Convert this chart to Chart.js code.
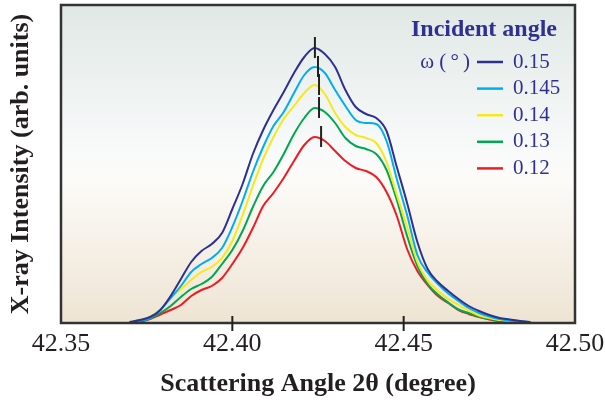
<!DOCTYPE html>
<html>
<head>
<meta charset="utf-8">
<script src="https://cdn.jsdelivr.net/npm/chart.js@4.4.1/dist/chart.umd.min.js"></script>
<style>
  html, body { margin: 0; padding: 0; background: #fff; }
  #wrap { width: 605px; height: 400px; }
</style>
</head>
<body>
<div id="wrap"><canvas id="xrd" width="605" height="400"></canvas></div>
<script>
// scattering angle 2theta (degree), shared by every curve
const angles = [
  42.370, 42.373, 42.376, 42.379, 42.382, 42.385, 42.388, 42.391, 42.394, 42.397,
  42.400, 42.403, 42.406, 42.409, 42.412, 42.415, 42.418, 42.421, 42.424, 42.427,
  42.430, 42.433, 42.436, 42.439, 42.442, 42.445, 42.448, 42.451, 42.454, 42.457,
  42.460, 42.463, 42.466, 42.469, 42.472, 42.475, 42.478, 42.481, 42.484, 42.487
];

// intensity (arb. units) for each incident angle
const omega015 = [
  1, 3, 6, 13, 27, 44, 61, 72, 79, 90,
  114, 139, 169, 193, 213, 231, 250, 266, 275, 269,
  256, 233, 216, 209, 205, 192, 156, 120, 81, 54,
  41, 32, 24, 17, 12, 8, 5, 3.5, 2, 1
];
const omega0145 = [
  0.5, 2.5, 5, 13, 25, 37, 51, 59, 65, 75,
  96, 122, 151, 176, 197, 211, 230, 248, 256, 250,
  233, 217, 203, 200, 199, 182, 144, 108, 68, 50.5,
  39, 29.5, 22, 15, 10, 6.5, 4, 2.5, 1.5, 1
];
const omega014 = [
  0.5, 3, 6, 14, 25, 34, 43, 51, 56, 65,
  82, 108, 137, 164, 186, 204, 217, 230, 238, 229,
  210, 196, 188, 185, 180, 161, 128, 96, 61, 42.5,
  32, 24, 18, 12.5, 7.5, 5, 3, 2, 1, 0.5
];
const omega013 = [
  0, 2, 4.5, 10, 17, 26, 34, 39, 46, 59,
  73, 92, 116, 137, 151, 169, 189, 205, 215, 211,
  200, 185, 177, 174, 169, 153, 123, 87, 57, 39,
  28.5, 20.5, 13.5, 10, 6.5, 4, 2, 1.5, 1, 0
];
const omega012 = [
  0, 1, 4, 8.5, 13, 18, 27, 33, 37, 45,
  59, 75, 95, 117, 130, 145, 162, 178, 186, 182,
  172, 162, 155, 152, 146, 131, 107, 74, 52, 38,
  27, 20, 13, 9, 6, 3.5, 2, 1.5, 1, 0
];

const omegaLabels = ['0.15', '0.145', '0.14', '0.13', '0.12'];
const lineColors = ['#2e3192', '#00aeef', '#f7e81b', '#00a651', '#ed1c24'];
// peak positions marked by the dashed line
const peakAngles = [42.4241, 42.4250, 42.4253, 42.4253, 42.4259];
const xTicks = [42.35, 42.40, 42.45, 42.50];

const allSeries = [omega015, omega0145, omega014, omega013, omega012];
const serif = '"Liberation Serif", "Times New Roman", serif';
const inkColor = '#231f20';
const legendColor = '#2e3192';

const plotDecor = {
  id: 'plotDecor',
  beforeDraw(chart) {
    const { ctx, chartArea: a } = chart;
    const g = ctx.createLinearGradient(0, a.top, 0, a.bottom);
    g.addColorStop(0, '#e0e8e5');
    g.addColorStop(0.45, '#f8fafa');
    g.addColorStop(0.55, '#fcfbf8');
    g.addColorStop(1, '#eee4d3');
    ctx.save();
    ctx.fillStyle = g;
    ctx.fillRect(a.left, a.top, a.right - a.left, a.bottom - a.top);
    ctx.restore();
  },
  afterDatasetsDraw(chart) {
    // short dashes through each peak
    const { ctx } = chart;
    const xs = chart.scales.x, ys = chart.scales.y;
    ctx.save();
    ctx.strokeStyle = inkColor;
    ctx.lineWidth = 2;
    chart.data.datasets.forEach((ds, i) => {
      const top = Math.max(...ds.data.map(p => p.y));
      const x = xs.getPixelForValue(peakAngles[i]);
      const y = ys.getPixelForValue(top);
      ctx.beginPath();
      ctx.moveTo(x, y - 11);
      ctx.lineTo(x, y + 10);
      ctx.stroke();
    });
    ctx.restore();
  },
  afterDraw(chart) {
    const { ctx, chartArea: a } = chart;
    const xs = chart.scales.x;
    ctx.save();
    // frame
    ctx.strokeStyle = '#333';
    ctx.lineWidth = 2.5;
    ctx.strokeRect(a.left, a.top, a.right - a.left, a.bottom - a.top);
    // ticks crossing the bottom axis
    ctx.strokeStyle = inkColor;
    ctx.lineWidth = 2;
    xs.ticks.forEach(t => {
      if (t.value <= xs.min || t.value >= xs.max) return;
      const x = xs.getPixelForValue(t.value);
      ctx.beginPath();
      ctx.moveTo(x, a.bottom - 7);
      ctx.lineTo(x, a.bottom + 8);
      ctx.stroke();
    });
    // legend
    ctx.fillStyle = legendColor;
    ctx.textBaseline = 'middle';
    ctx.textAlign = 'right';
    ctx.font = 'bold 24px ' + serif;
    ctx.fillText('Incident angle', a.right - 18, a.top + 24.5);
    ctx.font = '21px ' + serif;
    ctx.fillText('ω (\u2009°\u2009)', a.right - 105, a.top + 57);
    ctx.textAlign = 'left';
    chart.data.datasets.forEach((ds, i) => {
      const y = a.top + 57 + i * 26.6;
      ctx.strokeStyle = ds.borderColor;
      ctx.lineWidth = 2.5;
      ctx.beginPath();
      ctx.moveTo(a.right - 98, y);
      ctx.lineTo(a.right - 72, y);
      ctx.stroke();
      ctx.fillText(ds.label, a.right - 62, y);
    });
    ctx.restore();
  }
};

const datasets = allSeries.map((s, i) => ({
  label: omegaLabels[i],
  data: angles.map((a, k) => ({ x: a, y: s[k] })),
  borderColor: lineColors[i],
  borderWidth: 2,
  pointRadius: 0,
  fill: false,
  cubicInterpolationMode: 'monotone'
}));

new Chart(document.getElementById('xrd').getContext('2d'), {
  type: 'line',
  data: { datasets: datasets },
  options: {
    responsive: false,
    animation: false,
    layout: { padding: { left: 0, right: 30, top: 5, bottom: 0 } },
    plugins: {
      legend: { display: false },
      tooltip: { enabled: false }
    },
    scales: {
      x: {
        type: 'linear',
        min: 42.35,
        max: 42.50,
        afterBuildTicks: axis => { axis.ticks = xTicks.map(v => ({ value: v })); },
        afterFit: axis => {
          axis.height = 77;
          axis.paddingLeft = 0;
          axis.paddingRight = 0;
        },
        grid: { display: false },
        border: { display: false },
        ticks: {
          autoSkip: false,
          maxRotation: 0,
          padding: -2,
          color: inkColor,
          font: { family: serif, size: 26 },
          callback: v => v.toFixed(2)
        },
        title: {
          display: true,
          text: 'Scattering Angle 2θ (degree)',
          color: inkColor,
          font: { family: serif, size: 26, weight: 'bold' },
          padding: { top: 0, bottom: 0 }
        }
      },
      y: {
        min: 0,
        max: 318,
        afterFit: axis => { axis.width = 61; },
        grid: { display: false },
        border: { display: false },
        ticks: { display: false },
        title: {
          display: true,
          text: 'X-ray Intensity (arb. units)',
          color: inkColor,
          font: { family: serif, size: 26, weight: 'bold' },
          padding: { top: 6, bottom: 0 }
        }
      }
    }
  },
  plugins: [plotDecor]
});
</script>
</body>
</html>
